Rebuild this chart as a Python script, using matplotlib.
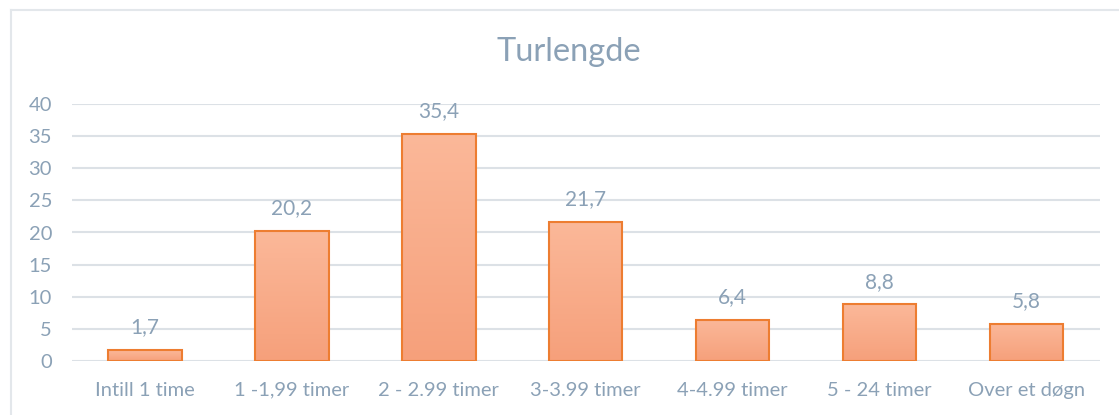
import numpy as np
import matplotlib.pyplot as plt
from matplotlib.lines import Line2D
from matplotlib.colors import LinearSegmentedColormap

kategorier = ['Intill 1 time', '1 -1,99 timer', '2 - 2.99 timer', '3-3.99 timer',
              '4-4.99 timer', '5 - 24 timer', 'Over et døgn']
verdier = [1.7, 20.2, 35.4, 21.7, 6.4, 8.8, 5.8]
yticks = [0, 5, 10, 15, 20, 25, 30, 35, 40]

tekstfarge = '#8BA1B6'
plt.rcParams['font.family'] = ['Lato', 'DejaVu Sans']

fig = plt.figure(figsize=(11.19, 4.15), dpi=100)
ax = fig.add_axes([71.5 / 1119, 54 / 415, (1100 - 71.5) / 1119, 257 / 415])

# ramme rundt diagrammet (går ut av bildet til høyre og nederst)
fig.add_artist(Line2D([11 / 1119, 11 / 1119], [0, 1 - 10 / 415], color='#E3E7EB', lw=1.5))
fig.add_artist(Line2D([11 / 1119, 1], [1 - 10 / 415, 1 - 10 / 415], color='#E3E7EB', lw=1.5))

x = np.arange(len(kategorier))
bars = ax.bar(x, verdier, width=0.5, color='none', edgecolor='#ED7D31', linewidth=1.5, zorder=3)

# gradient i søylene, lys øverst
cmap = LinearSegmentedColormap.from_list('g', ['#F6A07B', '#FBB899'])
grad = np.linspace(0, 1, 100).reshape(-1, 1)
for b in bars:
    x0, y0 = b.get_x(), b.get_y()
    w, h = b.get_width(), b.get_height()
    im = ax.imshow(grad, extent=[x0, x0 + w, y0, y0 + h], origin='lower', cmap=cmap,
                   aspect='auto', zorder=2)
    im.set_clip_path(b)

for xi, v in zip(x, verdier):
    ax.text(xi, v + 2.0, f'{v:.1f}'.replace('.', ','), ha='center', va='bottom',
            color=tekstfarge, fontsize=15)

ax.set_xlim(-0.5, len(kategorier) - 0.5)
ax.set_ylim(0, 40)
ax.set_yticks(yticks)
ax.set_xticks(x)
ax.set_xticklabels(kategorier)
ax.tick_params(axis='both', length=0, colors=tekstfarge, labelsize=14.5)
ax.tick_params(axis='x', pad=15)
ax.tick_params(axis='y', pad=14)
ax.grid(axis='y', color='#DCE1E6', lw=1.5, zorder=0)
ax.set_axisbelow(True)
for s in ax.spines.values():
    s.set_visible(False)

fig.text(569 / 1119, 1 - 52 / 415, 'Turlengde', ha='center', va='center',
         color=tekstfarge, fontsize=23.5)

fig.savefig('out.png', dpi=100)
